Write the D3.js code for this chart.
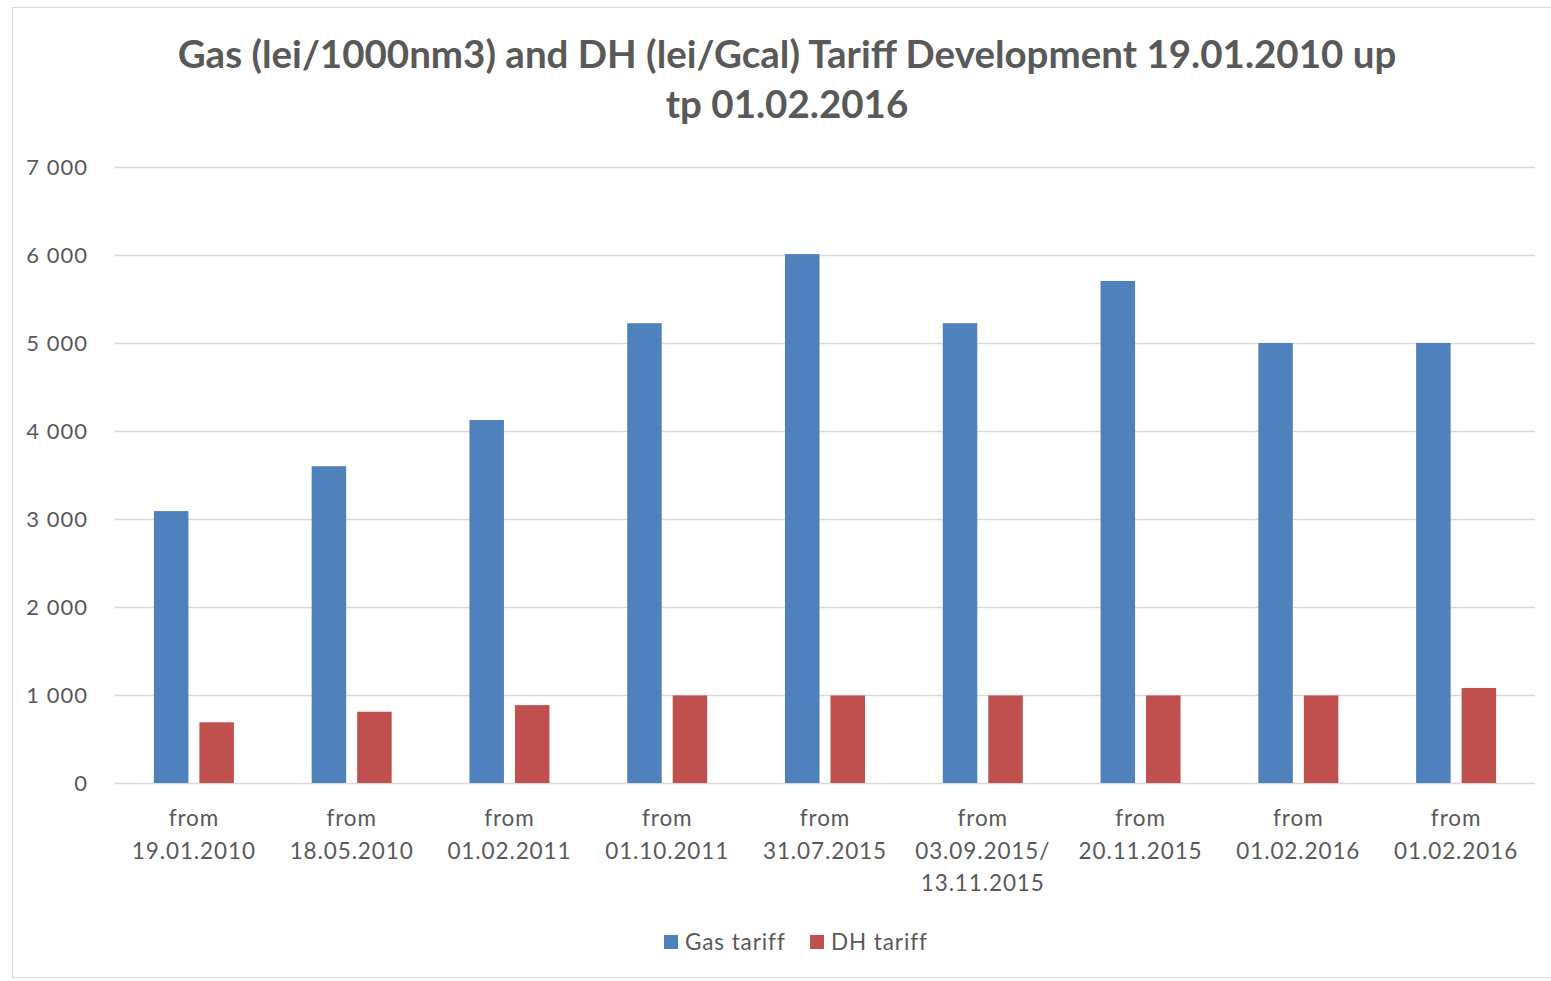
<!DOCTYPE html>
<html>
<head>
    <script src="https://d3js.org/d3.v7.min.js"></script>
    <style>
        body { margin: 0; background: #fff; }
        text { font-family: Lato, "Open Sans", sans-serif; fill: #595959; }
    </style>
</head>
<body>

<script>
const categories = [
    ['from', '19.01.2010'],
    ['from', '18.05.2010'],
    ['from', '01.02.2011'],
    ['from', '01.10.2011'],
    ['from', '31.07.2015'],
    ['from', '03.09.2015/', '13.11.2015'],
    ['from', '20.11.2015'],
    ['from', '01.02.2016'],
    ['from', '01.02.2016']
];
const gasTariff = [3090, 3600, 4125, 5225, 6010, 5225, 5705, 5000, 5000];
const dhTariff = [690, 810, 885, 995, 995, 995, 995, 995, 1080];
const seriesNames = ['Gas tariff', 'DH tariff'];
const seriesColors = ['#4f81bd', '#c0504d'];
const yTicks = [0, 1000, 2000, 3000, 4000, 5000, 6000, 7000];
const titleLines = ['Gas (lei/1000nm3) and DH (lei/Gcal) Tariff Development 19.01.2010 up', 'tp 01.02.2016'];

createBarPlot();

function createBarPlot() {
    const W = 1551, H = 981;
    const margin = { top: 167, right: 16, bottom: 198, left: 115 };
    const width = W - margin.left - margin.right;
    const height = H - margin.top - margin.bottom;

    const root = d3.select('body')
        .append('svg')
        .attr('width', W)
        .attr('height', H);

    // chart border
    root.append('rect')
        .attr('x', 12.5).attr('y', 7.5)
        .attr('width', W - 12).attr('height', H - 11)
        .attr('fill', 'none')
        .attr('stroke', '#d9d9d9');

    // title
    root.append('text')
        .attr('x', 787)
        .attr('y', 68)
        .attr('text-anchor', 'middle')
        .style('font-size', '38.5px')
        .style('font-weight', 'bold')
        .selectAll('tspan')
        .data(titleLines)
        .enter()
        .append('tspan')
        .attr('x', 787)
        .attr('dy', (d, i) => i === 0 ? 0 : 50)
        .text(d => d);

    const svg = root.append('g')
        .attr('transform', `translate(${margin.left},${margin.top})`);

    const xScale = d3.scaleBand()
        .domain(d3.range(categories.length))
        .range([0, width]);

    const yScale = d3.scaleLinear()
        .domain([0, 7000])
        .range([height, 0]);

    // two bars per category, 34.5px wide with an 11px gap
    const barW = 34.5, gap = 11;
    const xSub = d3.scaleBand()
        .domain([0, 1])
        .range([xScale.bandwidth() / 2 - barW - gap / 2, xScale.bandwidth() / 2 + barW + gap / 2])
        .paddingInner(gap / (barW + gap));

    // gridlines
    svg.selectAll('line.grid')
        .data(yTicks)
        .enter()
        .append('line')
        .attr('class', 'grid')
        .attr('x1', 0).attr('x2', width)
        .attr('y1', d => Math.round(yScale(d)) + 0.5)
        .attr('y2', d => Math.round(yScale(d)) + 0.5)
        .attr('stroke', '#d9d9d9')
        .attr('stroke-width', 1.5);

    // y axis labels
    const yAxis = d3.axisLeft(yScale)
        .tickValues(yTicks)
        .tickSize(0)
        .tickPadding(27)
        .tickFormat(d => d3.format(',')(d).replace(',', ' '));
    const gy = svg.append('g').call(yAxis);
    gy.select('.domain').remove();
    gy.selectAll('text')
        .style('font-size', '22px')
        .style('letter-spacing', '1px')
        .style('font-family', 'Lato, sans-serif')
        .attr('fill', '#595959');

    // bars
    const series = [gasTariff, dhTariff];
    const groups = svg.selectAll('g.cat')
        .data(categories)
        .enter()
        .append('g')
        .attr('class', 'cat')
        .attr('transform', (d, i) => `translate(${xScale(i)},0)`);

    groups.selectAll('rect')
        .data((d, i) => series.map((s, k) => ({ k, v: s[i] })))
        .enter()
        .append('rect')
        .attr('x', d => xSub(d.k))
        .attr('y', d => yScale(d.v))
        .attr('width', xSub.bandwidth())
        .attr('height', d => height - yScale(d.v))
        .attr('fill', d => seriesColors[d.k]);

    // category labels
    groups.append('text')
        .attr('text-anchor', 'middle')
        .style('font-size', '22.5px')
        .style('letter-spacing', '0.9px')
        .selectAll('tspan')
        .data(d => d)
        .enter()
        .append('tspan')
        .attr('x', xScale.bandwidth() / 2)
        .attr('y', (d, j) => height + 43 + j * 32.5)
        .text(d => d);

    // legend
    const legend = root.append('g')
        .attr('transform', 'translate(664,942)');
    const legendX = [0, 146];
    seriesNames.forEach((name, k) => {
        legend.append('rect')
            .attr('x', legendX[k])
            .attr('y', -7)
            .attr('width', 14)
            .attr('height', 14)
            .attr('fill', seriesColors[k]);
        legend.append('text')
            .attr('x', legendX[k] + 21)
            .attr('y', 8)
            .style('font-size', '22.5px')
            .style('letter-spacing', '0.9px')
            .text(name);
    });
}
</script>

</body>
</html>
